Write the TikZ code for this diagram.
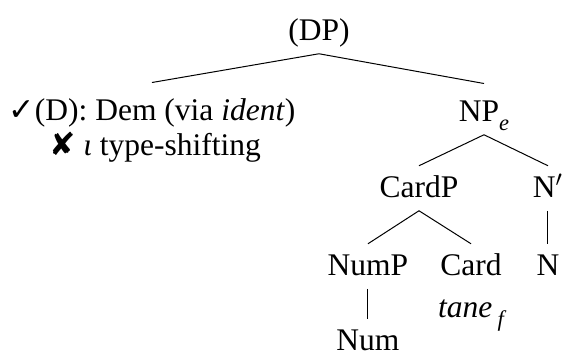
\documentclass[tikz,border=0pt]{standalone}
\usepackage{fontspec}
\setmainfont{Liberation Serif}
\newfontfamily\symbfont{DejaVu Sans}
\newcommand{\lowsub}[1]{\raisebox{-0.3em}{\fontsize{9}{10}\selectfont\itshape #1}}

\begin{document}
\begin{tikzpicture}[x=0.4pt, y=-0.4pt,
    lbl/.style={anchor=base, inner sep=0pt, outer sep=3.5pt,
        text height=9pt, text depth=2pt, font=\fontsize{12.6}{15}\selectfont}]

    \useasboundingbox (0, 0) rectangle (562, 355);

    % labels, one row per level
    \node [lbl] (dp) at (319, 40) {(DP)};
    \node [lbl, text height=11.5pt] (dem) at (152, 120) {{\symbfont ✓}(D): Dem (via \textit{ident})};
    \node [lbl] (ishift) at (155, 155) {{\symbfont ✘} \textit{ι} type-shifting};
    \node [lbl, text height=11.5pt] (np) at (484, 121) {NP\lowsub{e}};
    \node [lbl] (cardp) at (419, 197) {CardP};
    \node [lbl] (nbar) at (548, 197) {N$'$};
    \node [lbl] (nump) at (368, 275) {NumP};
    \node [lbl] (card) at (471, 275) {Card};
    \node [lbl] (n) at (548, 275) {N};
    \node [lbl] (tane) at (471, 317) {\textit{tane}\,\lowsub{f}};
    \node [lbl, text depth=0pt] (num) at (368, 350) {Num};

    % branches
    \draw (dp.south) -- (dem.north);
    \draw (dp.south) -- (np.north);
    \draw (np.south) -- (cardp.north);
    \draw (np.south) -- (nbar.north);
    \draw (cardp.south) -- (nump.north);
    \draw (cardp.south) -- (card.north);
    \draw (nbar.south) -- (n.north);
    \draw (nump.south) -- (num.north);

\end{tikzpicture}
\end{document}
